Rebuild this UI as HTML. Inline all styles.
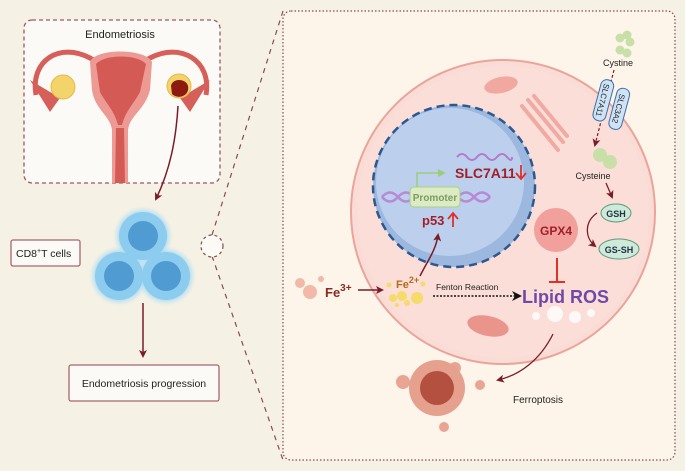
<!DOCTYPE html>
<html><head><meta charset="utf-8"><style>
html,body{margin:0;padding:0;background:#f5f1e4;}
svg{display:block;font-family:"Liberation Sans",Arial,sans-serif;}
</style></head><body>
<svg width="685" height="471" viewBox="0 0 685 471" xmlns="http://www.w3.org/2000/svg">
<defs>
<marker id="ar" markerWidth="8" markerHeight="8" refX="6" refY="4" orient="auto" markerUnits="userSpaceOnUse"><path d="M0,0 L8,4 L0,8 L2,4z" fill="#7a1c28"/></marker>
<marker id="ak" markerWidth="10" markerHeight="10" refX="8" refY="5" orient="auto" markerUnits="userSpaceOnUse"><path d="M0,0 L10,5 L0,10 L3,5z" fill="#111"/></marker>
<marker id="ag" markerWidth="8" markerHeight="8" refX="6" refY="4" orient="auto" markerUnits="userSpaceOnUse"><path d="M0,0 L8,4 L0,8z" fill="#9ccc7a"/></marker>
<radialGradient id="tc" cx="50%" cy="50%" r="50%"><stop offset="0.7" stop-color="#8fd0f2"/><stop offset="1" stop-color="#bfe6f8" stop-opacity="0"/></radialGradient>
</defs>
<rect width="685" height="471" fill="#f5f1e4"/>
<!-- right panel -->
<rect x="283" y="11" width="392" height="449" rx="8" fill="#fdf4ea" stroke="#8a4a52" stroke-width="1.2" stroke-dasharray="1.5,2"/>
<!-- zoom lines -->
<line x1="212" y1="235" x2="283" y2="11" stroke="#8a4a52" stroke-width="1.2" stroke-dasharray="5,5"/>
<line x1="212" y1="256" x2="283" y2="460" stroke="#8a4a52" stroke-width="1.2" stroke-dasharray="5,5"/>
<circle cx="212" cy="246" r="11" fill="#fbfaf5" stroke="#8a4a52" stroke-width="1.2" stroke-dasharray="3,3"/>
<!-- left box -->
<rect x="24" y="20" width="196" height="163" rx="8" fill="#fbfaf6" stroke="#9a5a62" stroke-width="1.3" stroke-dasharray="4,3"/>
<text x="120" y="38" font-size="11" text-anchor="middle" fill="#222">Endometriosis</text>
<!-- uterus -->
<path d="M36,95 C30,60 60,42 90,58 C100,64 110,66 120,66 C130,66 140,64 150,58 C180,42 212,60 206,95" fill="none" stroke="#d65f5a" stroke-width="5"/>
<path d="M90,62 C95,48 145,48 152,62 L150,90 C145,110 130,115 128,130 L128,183 L112,183 L112,130 C110,115 95,110 92,90 Z" fill="#ec9a93"/>
<path d="M96,64 C105,54 137,54 146,64 L140,92 C133,105 126,110 122,125 L118,125 C114,110 107,105 100,92 Z" fill="#d45a55"/>
<path d="M116,128 L124,128 L125,183 L115,183 Z" fill="#d45a55"/>
<path d="M30,80 L50,112 L60,98 Z" fill="#d65f5a"/>
<path d="M210,80 L190,112 L180,98 Z" fill="#d65f5a"/>
<circle cx="63" cy="87" r="12" fill="#f3d46a" stroke="#e9b84a"/>
<circle cx="179" cy="86" r="12" fill="#f3d46a" stroke="#e9b84a"/>
<path d="M171,86 C172,78 186,78 188,86 C190,96 178,100 172,94 Z" fill="#8c1a10"/>
<path d="M178,106 C176,140 170,170 156,199" fill="none" stroke="#7a1c28" stroke-width="1.5" marker-end="url(#ar)"/>
<!-- T cells -->
<circle cx="143" cy="236" r="30" fill="url(#tc)"/>
<circle cx="119" cy="276" r="30" fill="url(#tc)"/>
<circle cx="166" cy="276" r="30" fill="url(#tc)"/>
<circle cx="143" cy="236" r="24" fill="#8cccef"/><circle cx="143" cy="236" r="15" fill="#4f9bd2"/>
<circle cx="119" cy="276" r="24" fill="#8cccef"/><circle cx="119" cy="276" r="15" fill="#4f9bd2"/>
<circle cx="166" cy="276" r="24" fill="#8cccef"/><circle cx="166" cy="276" r="15" fill="#4f9bd2"/>
<rect x="11" y="240" width="69" height="26" rx="2" fill="#fbfaf6" stroke="#a8666e" stroke-width="1.3"/>
<text x="16" y="257" font-size="10.5" fill="#222">CD8<tspan font-size="7" dy="-4">+</tspan><tspan dy="4">T cells</tspan></text>
<line x1="143" y1="303" x2="143" y2="356" stroke="#7a1c28" stroke-width="1.5" marker-end="url(#ar)"/>
<rect x="69" y="365" width="150" height="36" rx="2" fill="#fbfaf6" stroke="#a8666e" stroke-width="1.3"/>
<text x="144" y="387" font-size="10.5" text-anchor="middle" fill="#222">Endometriosis progression</text>
<!-- cell -->
<circle cx="503" cy="212" r="152" fill="#f9dcd6" stroke="#eba39a" stroke-width="2"/>
<circle cx="503" cy="212" r="146" fill="#fbded8"/>
<!-- organelles -->
<ellipse cx="501" cy="85" rx="17" ry="8" fill="#f0a8a0" transform="rotate(-12 501 85)"/>
<ellipse cx="488" cy="326" rx="21" ry="10" fill="#ea958c" transform="rotate(12 488 326)"/>
<path d="M528,100 l35,42 M534,96 l33,40 M522,106 l36,44" stroke="#f0aaa2" stroke-width="4" stroke-linecap="round"/>
<!-- nucleus -->
<circle cx="454" cy="186" r="81" fill="#9db8de"/>
<circle cx="450" cy="182" r="74" fill="#bcd0ee"/>
<circle cx="454" cy="186" r="81" fill="none" stroke="#2c5890" stroke-width="2.5" stroke-dasharray="8,5"/>
<path d="M457,157 q5,-6 10,0 t10,0 t10,0 t10,0 t10,0 t5,0" fill="none" stroke="#b27acb" stroke-width="2"/>
<path d="M382,197 q8,-9 16,0 t16,0 M382,197 q8,9 16,0 t16,0 M458,197 q8,-9 16,0 t16,0 M458,197 q8,9 16,0 t16,0" fill="none" stroke="#b889d6" stroke-width="2.5"/>
<path d="M417,188 L417,173 L444,173" fill="none" stroke="#9ccc7a" stroke-width="1.5" marker-end="url(#ag)"/>
<rect x="410" y="187" width="50" height="20" rx="4" fill="#dcebc2" stroke="#a8cf86"/>
<text x="435" y="201" font-size="10" font-weight="bold" text-anchor="middle" fill="#7a9c63">Promoter</text>
<text x="455" y="178" font-size="14" font-weight="bold" fill="#a0202a">SLC7A11</text>
<path d="M521,165 L521,178 M516,173 L521,179 L526,173" stroke="#e0302a" stroke-width="1.8" fill="none"/>
<text x="422" y="225" font-size="13" font-weight="bold" fill="#a0202a">p53</text>
<path d="M453,227 L453,214 M448,219 L453,213 L458,219" stroke="#e0302a" stroke-width="1.8" fill="none"/>
<!-- Fe -->
<circle cx="300" cy="283" r="5" fill="#f2b8a8"/><circle cx="310" cy="292" r="7" fill="#f2b8a8"/><circle cx="321" cy="279" r="3" fill="#f2b8a8"/>
<text x="325" y="297" font-size="13" font-weight="bold" fill="#8a2a20">Fe<tspan font-size="10" dy="-6">3+</tspan></text>
<line x1="358" y1="290" x2="382" y2="290" stroke="#7a1c28" stroke-width="1.5" marker-end="url(#ar)"/>
<text x="396" y="288" font-size="11" font-weight="bold" fill="#b86a1a">Fe<tspan font-size="9" dy="-5">2+</tspan></text>
<circle cx="389" cy="285" r="2.5" fill="#f5dc6a"/><circle cx="423" cy="284" r="2.5" fill="#f5dc6a"/>
<circle cx="393" cy="298" r="4" fill="#f5dc6a"/><circle cx="402" cy="296" r="5" fill="#f5dc6a"/><circle cx="417" cy="298" r="6" fill="#f5dc6a"/><circle cx="407" cy="303" r="3" fill="#f5dc6a"/><circle cx="397" cy="305" r="2" fill="#f5dc6a"/>
<path d="M420,276 C428,260 436,250 438,235" fill="none" stroke="#7a1c28" stroke-width="1.5" marker-end="url(#ar)"/>
<text x="436" y="290" font-size="8.5" fill="#222">Fenton Reaction</text>
<line x1="433" y1="296" x2="520" y2="296" stroke="#111" stroke-width="1.6" stroke-dasharray="2,1.5" marker-end="url(#ak)"/>
<text x="522" y="303" font-size="18" font-weight="bold" fill="#7048a8">Lipid ROS</text>
<circle cx="536" cy="316" r="4" fill="#fff" opacity="0.8"/><circle cx="555" cy="314" r="8" fill="#fff" opacity="0.8"/><circle cx="575" cy="317" r="6" fill="#fff" opacity="0.8"/><circle cx="591" cy="313" r="4" fill="#fff" opacity="0.8"/>
<!-- GPX4 -->
<circle cx="556" cy="230" r="22" fill="#f2a09c"/>
<text x="556" y="235" font-size="12" font-weight="bold" text-anchor="middle" fill="#a0202a">GPX4</text>
<path d="M557,258 L557,282 M549,282 L565,282" stroke="#e0302a" stroke-width="2"/>
<!-- cystine -->
<circle cx="620" cy="38" r="4.5" fill="#c8dfa8"/><circle cx="627" cy="35" r="4.5" fill="#c8dfa8"/><circle cx="630" cy="42" r="4.5" fill="#c8dfa8"/><circle cx="620" cy="50" r="4.5" fill="#c8dfa8"/><circle cx="627" cy="53" r="4.5" fill="#c8dfa8"/>
<text x="618" y="66" font-size="9" text-anchor="middle" fill="#222">Cystine</text>
<line x1="614" y1="70" x2="595" y2="145" stroke="#7a1c28" stroke-width="1.2" stroke-dasharray="3,2" marker-end="url(#ar)"/>
<g transform="rotate(15 606 100)"><rect x="597" y="80" width="13" height="42" rx="6" fill="#cfe3f6" stroke="#3a6fa6"/><text x="603" y="101" font-size="8" fill="#222" text-anchor="middle" transform="rotate(90 603 101)" dy="3">SLC7A11</text></g>
<g transform="rotate(15 620 108)"><rect x="613" y="88" width="13" height="42" rx="6" fill="#cfe3f6" stroke="#3a6fa6"/><text x="619" y="109" font-size="8" fill="#222" text-anchor="middle" transform="rotate(90 619 109)" dy="3">SLC3A2</text></g>
<circle cx="600" cy="155" r="7" fill="#c8dfa8"/><circle cx="610" cy="162" r="7" fill="#c8dfa8"/>
<text x="593" y="179" font-size="9" text-anchor="middle" fill="#222">Cysteine</text>
<path d="M606,183 L612,197" stroke="#7a1c28" stroke-width="1.3" marker-end="url(#ar)"/>
<ellipse cx="616" cy="213" rx="15" ry="9" fill="#cdeadb" stroke="#5e9a7a"/>
<text x="616" y="217" font-size="9" font-weight="bold" text-anchor="middle" fill="#234">GSH</text>
<path d="M597,213 C584,222 585,238 595,246" fill="none" stroke="#7a1c28" stroke-width="1.3" marker-end="url(#ar)"/>
<ellipse cx="619" cy="249" rx="20" ry="10" fill="#cdeadb" stroke="#5e9a7a"/>
<text x="619" y="253" font-size="9" font-weight="bold" text-anchor="middle" fill="#234">GS-SH</text>
<!-- ferroptosis -->
<path d="M553,334 C540,360 520,375 498,380" fill="none" stroke="#7a1c28" stroke-width="1.3" marker-end="url(#ar)"/>
<circle cx="403" cy="382" r="7" fill="#e8a594"/><circle cx="480" cy="385" r="5" fill="#e8a594"/><circle cx="455" cy="368" r="6" fill="#e8a594"/><circle cx="444" cy="427" r="5" fill="#e8a594"/>
<circle cx="437" cy="388" r="28" fill="#e5a08e"/>
<circle cx="437" cy="388" r="17" fill="#b4503f"/>
<text x="513" y="403" font-size="10" fill="#222">Ferroptosis</text>
</svg>
</body></html>
